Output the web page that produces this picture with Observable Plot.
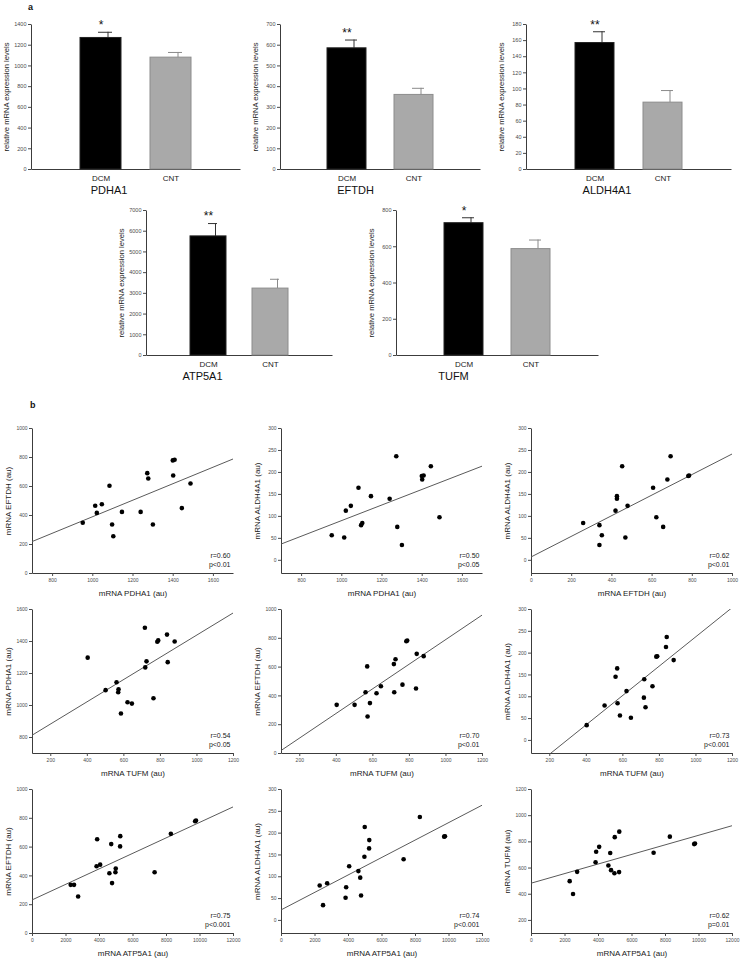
<!DOCTYPE html>
<html><head><meta charset="utf-8">
<script src="https://cdn.jsdelivr.net/npm/d3@7"></script>
<script src="https://cdn.jsdelivr.net/npm/@observablehq/plot@0.6"></script>
<style>
body{margin:0;background:#fff;}
#fig{position:relative;width:744px;height:961px;overflow:hidden;font-family:"Liberation Sans",Arial,Helvetica,sans-serif;}
.tag{position:absolute;font-weight:bold;font-size:9px;color:#111;}
</style></head>
<body><div id="fig"><div class="tag" style="left:28px;top:2px">a</div><div class="tag" style="left:30px;top:400px">b</div></div>
<script>
// ---------- data: panel a (bar charts) ----------
const barGenes = ["PDHA1", "EFTDH", "ALDH4A1", "ATP5A1", "TUFM"];
const barGroups = ["DCM", "CNT"];
const dcmMean = [1270, 585, 157, 5750, 730];
const dcmErr  = [55, 40, 14, 620, 30];
const cntMean = [1080, 360, 83, 3230, 587];
const cntErr  = [50, 32, 15, 450, 50];
const stars   = ["*", "**", "**", "**", "*"];
const barYMax  = [1400, 700, 180, 7000, 800];
const barYStep = [200, 100, 20, 1000, 200];

// ---------- data: panel b (per-sample expression, au) ----------
const PDHA1   = [950, 1012, 1020, 1045, 1083, 1096, 1102, 1145, 1238, 1271, 1276, 1299, 1398, 1407, 1400, 1443, 1486];
const EFTDH   = [350, 467, 418, 478, 605, 338, 257, 425, 425, 692, 655, 338, 780, 784, 676, 451, 621];
const ALDH4A1 = [57, 52, 113, 124, 165, 80, 85, 146, 140, 237, 76, 35, 192, 193, 184, 214, 98];
const TUFM    = [584, 644, 620, 762, 569, 500, 571, 560, 717, 840, 724, 402, 783, 788, 878, 836, 715];
const ATP5A1  = [4750, 3825, 4590, 4040, 5230, 2280, 2725, 4950, 7290, 8260, 3860, 2480, 9710, 9760, 5240, 4970, 4700];

const scatterX = ["PDHA1", "PDHA1", "EFTDH", "TUFM", "TUFM", "TUFM", "ATP5A1", "ATP5A1", "ATP5A1"];
const scatterY = ["EFTDH", "ALDH4A1", "ALDH4A1", "PDHA1", "EFTDH", "ALDH4A1", "EFTDH", "ALDH4A1", "TUFM"];
const scatterR = ["r=0.60", "r=0.50", "r=0.62", "r=0.54", "r=0.70", "r=0.73", "r=0.75", "r=0.74", "r=0.62"];
const scatterP = ["p<0.01", "p<0.05", "p<0.01", "p<0.05", "p<0.01", "p<0.001", "p<0.001", "p<0.001", "p=0.01"];

// ---------- scale configuration ----------
const genes = {PDHA1, EFTDH, ALDH4A1, TUFM, ATP5A1};
const xScale = {
  PDHA1:  {domain: [700, 1700], ticks: d3.range(800, 1601, 200)},
  EFTDH:  {domain: [0, 1000], ticks: d3.range(0, 1001, 200)},
  TUFM:   {domain: [100, 1200], ticks: d3.range(200, 1201, 200)},
  ATP5A1: {domain: [0, 12000], ticks: d3.range(0, 12001, 2000)}
};
const yScale = {
  EFTDH:   {domain: [0, 1000], ticks: d3.range(0, 1001, 200)},
  ALDH4A1: {domain: [-30, 300], ticks: d3.range(0, 301, 50)},
  PDHA1:   {domain: [700, 1600], ticks: d3.range(800, 1601, 200)},
  TUFM:    {domain: [100, 1200], ticks: d3.range(200, 1201, 200)}
};

// ---------- layout (page pixels of each plot frame) ----------
const barFrames = [
  {l: 31, t: 24, r: 240, b: 169, labelDx: -27},
  {l: 280, t: 24, r: 480, b: 169, labelDx: -25},
  {l: 526, t: 24, r: 731, b: 169, labelDx: -22},
  {l: 146, t: 210, r: 332, b: 355, labelDx: -37},
  {l: 396, t: 210, r: 598, b: 355, labelDx: -44}
];
const colsB = [[32, 233], [281, 482], [531, 732]];
const rowsB = [[428, 573], [609, 753], [789, 933]];

const FONT = '"Liberation Sans", Arial, Helvetica, sans-serif';
const fig = document.getElementById("fig");
const plain = d => String(d);

function mount(svg, left, top, w, h) {
  const d = document.createElement("div");
  d.style.cssText = `position:absolute;left:${left}px;top:${top}px;width:${w}px;height:${h}px;`;
  svg.style.maxWidth = "none";
  d.appendChild(svg);
  fig.appendChild(d);
}

function panel(fr, scales, marks) {
  const ml = 50, mr = 12, mt = 28, mb = 36;
  const W = fr.r - fr.l, H = fr.b - fr.t;
  const w = W + ml + mr, h = H + mt + mb;
  const svg = Plot.plot({
    width: w, height: h,
    marginLeft: ml, marginRight: mr, marginTop: mt, marginBottom: mb,
    style: {background: "transparent", overflow: "visible", fontFamily: FONT, color: "#1a1a1a"},
    ...scales,
    marks: [
      Plot.frame({fill: "none", stroke: "#3c3c3c", strokeWidth: 1, strokeDasharray: `0 ${W + H} ${W + H}`}),
      ...marks
    ]
  });
  mount(svg, fr.l - ml, fr.t - mt, w, h);
}

// ---------- panel a ----------
barGenes.forEach((gene, i) => {
  const data = [
    {g: "DCM", v: dcmMean[i], e: dcmErr[i]},
    {g: "CNT", v: cntMean[i], e: cntErr[i]}
  ];
  const dcm = data.filter(d => d.g === "DCM");
  const cnt = data.filter(d => d.g === "CNT");
  const fr = barFrames[i];
  panel(fr, {
    x: {type: "band", domain: barGroups, paddingInner: 0.42, paddingOuter: 0.7, axis: null},
    y: {domain: [0, barYMax[i]], axis: null}
  }, [
    Plot.axisY({ticks: d3.range(0, barYMax[i] + barYStep[i] / 2, barYStep[i]), tickFormat: plain, tickSize: 3, tickPadding: 2, fontSize: 5.5, color: "#4a4a4a", label: null}),
    Plot.axisX({tickSize: 0, tickPadding: 6, fontSize: 8, color: "#1a1a1a", label: null}),
    Plot.ruleX(dcm, {x: "g", y1: "v", y2: d => d.v + d.e, stroke: "#333", strokeWidth: 1, dx: 7}),
    Plot.tickY(dcm, {x: "g", y: d => d.v + d.e, stroke: "#333", strokeWidth: 1, insetLeft: 18, insetRight: 9}),
    Plot.ruleX(cnt, {x: "g", y1: "v", y2: d => d.v + d.e, stroke: "#8a8a8a", strokeWidth: 1, dx: 7}),
    Plot.tickY(cnt, {x: "g", y: d => d.v + d.e, stroke: "#8a8a8a", strokeWidth: 1, insetLeft: 18, insetRight: 9}),
    Plot.barY(dcm, {x: "g", y: "v", fill: "#000", stroke: "#222", strokeWidth: 1}),
    Plot.barY(cnt, {x: "g", y: "v", fill: "#a9a9a9", stroke: "#8c8c8c", strokeWidth: 1}),
    Plot.text(dcm, {x: "g", y: d => d.v + d.e, text: () => stars[i], dy: -7, fontSize: 12, fill: "#111"}),
    Plot.text(["relative mRNA expression levels"], {frameAnchor: "left", textAnchor: "middle", rotate: -90, dx: -25, fontSize: 7.6, fill: "#1a1a1a"}),
    Plot.text([gene], {frameAnchor: "bottom", dx: fr.labelDx, dy: 24, fontSize: 11, fill: "#111"})
  ]);
});

// ---------- panel b ----------
function fit(xs, ys) {
  const mx = d3.mean(xs), my = d3.mean(ys);
  const sxy = d3.sum(xs, (x, k) => (x - mx) * (ys[k] - my));
  const sxx = d3.sum(xs, x => (x - mx) ** 2);
  const slope = sxy / sxx;
  return {slope, intercept: my - slope * mx};
}

scatterX.forEach((xg, i) => {
  const yg = scatterY[i];
  const xs = genes[xg], ys = genes[yg];
  const pts = xs.map((x, k) => ({x, y: ys[k]}));
  const {slope, intercept} = fit(xs, ys);
  const xd = xScale[xg].domain;
  const lineData = xd.map(x => ({x, y: intercept + slope * x}));
  const c = colsB[i % 3], r = rowsB[Math.floor(i / 3)];
  const fr = {l: c[0], r: c[1], t: r[0], b: r[1]};
  panel(fr, {
    x: {domain: xd, axis: null},
    y: {domain: yScale[yg].domain, axis: null}
  }, [
    Plot.axisX({ticks: xScale[xg].ticks, tickFormat: plain, tickSize: 3, tickPadding: 2, fontSize: 5, color: "#4a4a4a", label: null}),
    Plot.axisY({ticks: yScale[yg].ticks, tickFormat: plain, tickSize: 3, tickPadding: 2, fontSize: 5, color: "#4a4a4a", label: null}),
    Plot.line(lineData, {x: "x", y: "y", stroke: "#5a5a5a", strokeWidth: 1, clip: true}),
    Plot.dot(pts, {x: "x", y: "y", r: 2.3, fill: "#000", stroke: "none"}),
    Plot.text([scatterR[i]], {frameAnchor: "bottom-right", textAnchor: "end", dx: -3, dy: -16, fontSize: 7, fill: "#222"}),
    Plot.text([scatterP[i]], {frameAnchor: "bottom-right", textAnchor: "end", dx: -3, dy: -7, fontSize: 7, fill: "#222"}),
    Plot.text([`mRNA ${yg} (au)`], {frameAnchor: "left", textAnchor: "middle", rotate: -90, dx: -24, fontSize: 8, fill: "#1a1a1a"}),
    Plot.text([`mRNA ${xg} (au)`], {frameAnchor: "bottom", dy: 22, fontSize: 8, fill: "#1a1a1a"})
  ]);
});
</script></body></html>
